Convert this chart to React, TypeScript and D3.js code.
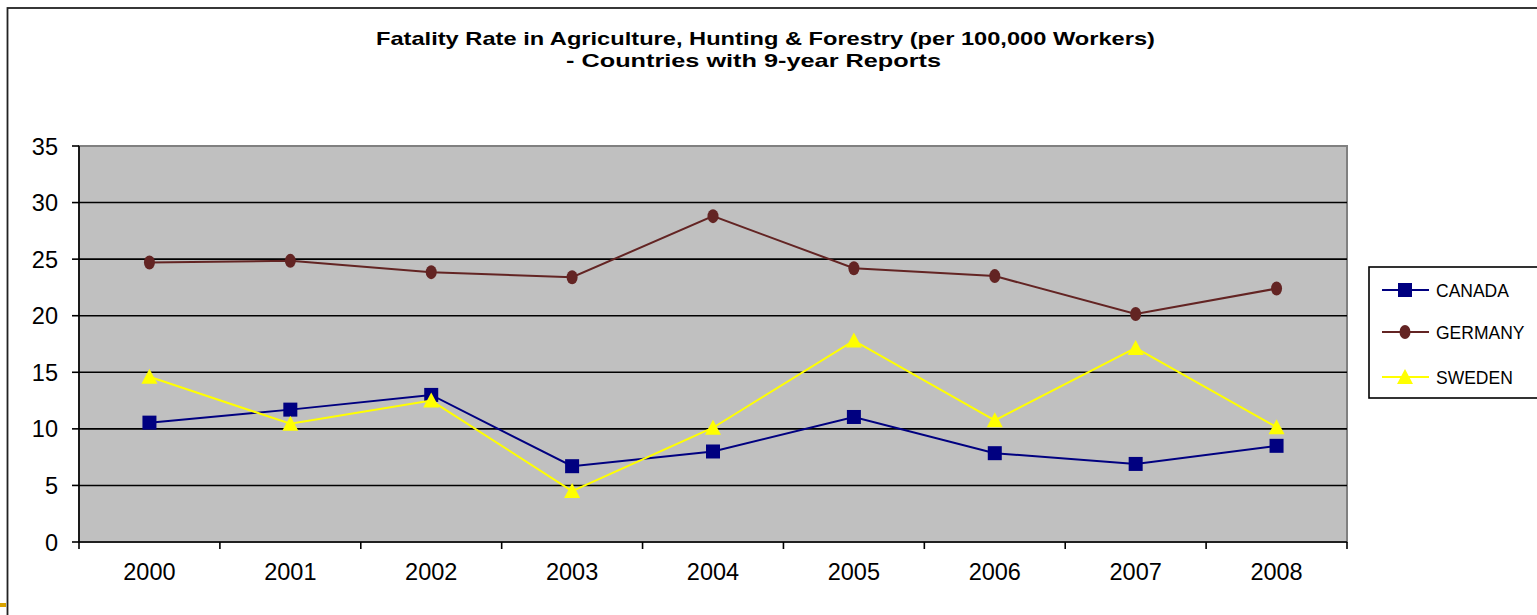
import React from "react";
import * as d3 from "d3";

const years = ["2000", "2001", "2002", "2003", "2004", "2005", "2006", "2007", "2008"];
const canada = [10.55, 11.7, 13.0, 6.7, 8.0, 11.05, 7.85, 6.9, 8.5];
const germany = [24.7, 24.85, 23.85, 23.4, 28.8, 24.2, 23.5, 20.15, 22.4];
const sweden = [14.6, 10.45, 12.5, 4.5, 10.1, 17.8, 10.75, 17.15, 10.15];
const yTicks = [0, 5, 10, 15, 20, 25, 30, 35];
const seriesNames = ["CANADA", "GERMANY", "SWEDEN"];
const titleLines = [
  "Fatality Rate in Agriculture, Hunting & Forestry (per 100,000 Workers)",
  "- Countries with 9-year Reports",
];

const W = 1537;
const H = 615;
const plot = { left: 79, right: 1347, top: 146, bottom: 542 };
const colors = ["#000080", "#632423", "#FFFF00"];

function Marker({ kind, x, y }: { kind: number; x: number; y: number }) {
  if (kind === 0) {
    return <rect x={x - 7} y={y - 7} width={14} height={14} fill={colors[0]} />;
  }
  if (kind === 1) {
    return <ellipse cx={x} cy={y} rx={5.5} ry={7} fill={colors[1]} />;
  }
  return (
    <path
      d={`M${x},${y - 8} L${x + 8},${y + 7} L${x - 8},${y + 7} Z`}
      fill={colors[2]}
    />
  );
}

export default function App() {
  const x = d3.scaleBand().domain(years).range([plot.left, plot.right]);
  const y = d3.scaleLinear().domain([0, 35]).range([plot.bottom, plot.top]);
  const cx = (yr: string) => (x(yr) as number) + x.bandwidth() / 2;
  const all = [canada, germany, sweden];
  const line = d3
    .line<number>()
    .x((_, i) => cx(years[i]))
    .y((v) => y(v));

  const font = "Arial, 'Liberation Sans', sans-serif";
  const boundaries = d3.range(years.length + 1).map((i) => plot.left + i * x.bandwidth());

  return (
    <div style={{ position: "absolute", left: 0, top: 0 }}>
      <svg width={W} height={H} style={{ display: "block" }} fontFamily={font}>
        <rect x={0} y={0} width={W} height={H} fill="#fff" />
        {/* chart frame */}
        <rect x={7.5} y={8} width={W + 10} height={H + 10} fill="none" stroke="#222" strokeWidth={1.8} />
        <rect x={0} y={603} width={6} height={4} fill="#D9A300" />

        {/* title, stretched to the wide chart-title rendering */}
        <text
          x={376}
          y={45}
          fontSize={19}
          fontWeight="bold"
          textLength={779}
          lengthAdjust="spacingAndGlyphs"
        >
          {titleLines[0]}
        </text>
        <text
          x={566}
          y={67}
          fontSize={19}
          fontWeight="bold"
          textLength={375}
          lengthAdjust="spacingAndGlyphs"
        >
          {titleLines[1]}
        </text>

        {/* plot area */}
        <rect
          x={plot.left}
          y={plot.top}
          width={plot.right - plot.left}
          height={plot.bottom - plot.top}
          fill="#C0C0C0"
          stroke="#808080"
          strokeWidth={2}
        />
        {yTicks
          .filter((t) => t > 0 && t < 35)
          .map((t) => (
            <line key={t} x1={plot.left} x2={plot.right} y1={y(t)} y2={y(t)} stroke="#000" strokeWidth={1.6} />
          ))}

        {/* y axis */}
        <line x1={plot.left} x2={plot.left} y1={plot.top} y2={plot.bottom} stroke="#000" strokeWidth={1.6} />
        {yTicks.map((t) => (
          <g key={t}>
            <line x1={plot.left - 7} x2={plot.left} y1={y(t)} y2={y(t)} stroke="#000" strokeWidth={1.6} />
            <text x={58} y={y(t) + 8.5} textAnchor="end" fontSize={23.5}>
              {t}
            </text>
          </g>
        ))}

        {/* x axis */}
        <line x1={plot.left} x2={plot.right} y1={plot.bottom} y2={plot.bottom} stroke="#000" strokeWidth={1.6} />
        {boundaries.map((bx, i) => (
          <line key={i} x1={bx} x2={bx} y1={plot.bottom} y2={plot.bottom + 7} stroke="#000" strokeWidth={1.6} />
        ))}
        {years.map((yr) => (
          <text key={yr} x={cx(yr)} y={580} textAnchor="middle" fontSize={23.5}>
            {yr}
          </text>
        ))}

        {/* series */}
        {all.map((vals, s) => (
          <g key={s}>
            <path d={line(vals) as string} fill="none" stroke={colors[s]} strokeWidth={2} />
            {vals.map((v, i) => (
              <Marker key={i} kind={s} x={cx(years[i])} y={y(v)} />
            ))}
          </g>
        ))}

        {/* legend */}
        <rect x={1369} y={267} width={180} height={131} fill="#fff" stroke="#000" strokeWidth={1.6} />
        {seriesNames.map((n, s) => {
          const ly = [290, 332, 377][s];
          return (
            <g key={n}>
              <line x1={1382} x2={1429} y1={ly} y2={ly} stroke={colors[s]} strokeWidth={2} />
              <Marker kind={s} x={1405} y={ly} />
              <text x={1436} y={ly + 6.5} fontSize={17.5}>
                {n}
              </text>
            </g>
          );
        })}
      </svg>
    </div>
  );
}
